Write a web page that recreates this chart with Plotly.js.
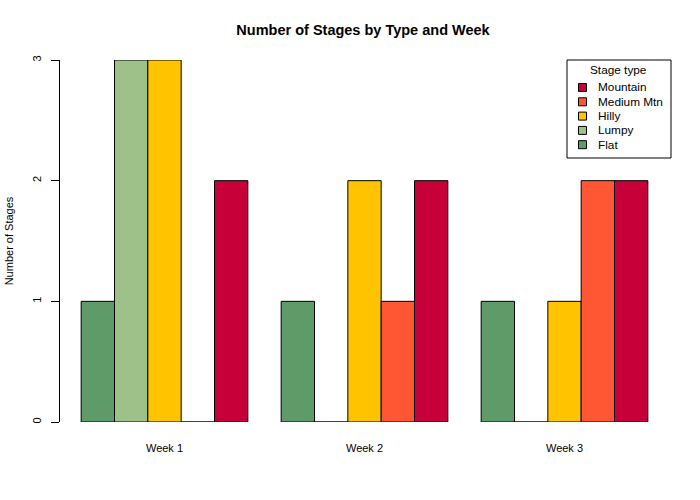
<!DOCTYPE html>
<html>
<head>
<meta charset="utf-8">
<script src="https://cdn.plot.ly/plotly-3.0.1.min.js"></script>
<style>html,body{margin:0;padding:0;background:#fff;}#chart{width:700px;height:500px;}</style>
</head>
<body>
<div id="chart"></div>
<script>
const weeks = ["Week 1", "Week 2", "Week 3"];
const stageTypes = ["Flat", "Lumpy", "Hilly", "Medium Mtn", "Mountain"];
const flat = [1, 1, 1];
const lumpy = [3, 0, 0];
const hilly = [3, 2, 1];
const mediumMtn = [0, 1, 2];
const mountain = [2, 2, 2];
const colors = ["#5F9A69", "#9DC188", "#FFC300", "#FF5733", "#C70039"];
const yTicks = [0, 1, 2, 3];
const legendTitle = "Stage type";

const seriesValues = [flat, lumpy, hilly, mediumMtn, mountain];
const font = "Liberation Sans, Arial, sans-serif";

const traces = stageTypes.map((name, i) => ({
  type: "bar",
  name: name,
  x: weeks,
  y: seriesValues[i],
  marker: {color: colors[i], line: {color: "#000", width: 1}},
  cliponaxis: false,
  showlegend: false,
  hoverinfo: "x+y+name"
}));

// plot-area geometry (pixels) used to place the hand-built legend box
const M = {l: 60, r: 29, t: 60, b: 78};
const W = 700, H = 500;
const pw = W - M.l - M.r, ph = H - M.t - M.b;
const px = v => (v - M.l) / pw;
const py = v => (H - M.b - v) / ph;

const shapes = [{
  type: "rect", xref: "paper", yref: "paper",
  x0: px(567), x1: px(671), y0: py(158), y1: py(60),
  line: {color: "#000", width: 1}, fillcolor: "#fff", layer: "above"
}];
const annotations = [{
  xref: "paper", yref: "paper", x: px(618), y: py(70),
  text: legendTitle, showarrow: false, xanchor: "center", yanchor: "middle",
  font: {family: font, size: 11.8, color: "#000"}
}];
const order = stageTypes.map((_, i) => i).reverse();
order.forEach((idx, row) => {
  const cy = 87.5 + row * 14.3;
  shapes.push({
    type: "rect", xref: "paper", yref: "paper",
    x0: px(578.5), x1: px(586.5), y0: py(cy + 4), y1: py(cy - 4),
    line: {color: "#000", width: 1}, fillcolor: colors[idx], layer: "above"
  });
  annotations.push({
    xref: "paper", yref: "paper", x: px(596), y: py(cy),
    text: stageTypes[idx], showarrow: false, xanchor: "left", yanchor: "middle",
    font: {family: font, size: 11.8, color: "#000"}
  });
});

const layout = {
  width: W, height: H,
  paper_bgcolor: "#fff", plot_bgcolor: "#fff",
  margin: M,
  font: {family: font, size: 11, color: "#000"},
  title: {text: "<b>Number of Stages by Type and Week</b>", font: {family: font, size: 14.5, color: "#000"},
          x: px(363), xref: "paper", xanchor: "center", y: 31, yref: "container", yanchor: "middle"},
  barmode: "group",
  bargap: 1/6,
  bargroupgap: 0,
  showlegend: false,
  shapes: shapes,
  annotations: annotations,
  xaxis: {
    type: "category",
    range: [-0.5225, 2.5325],
    showline: false, showgrid: false, zeroline: false,
    ticks: "", ticklabelstandoff: 18,
    tickfont: {family: font, size: 11, color: "#000"}
  },
  yaxis: {
    range: [0, 3],
    tickvals: yTicks,
    ticktext: yTicks.map(String),
    showline: true, linecolor: "#000", linewidth: 1,
    ticks: "outside", ticklen: 8, tickcolor: "#000", tickwidth: 1,
    tickangle: -90, ticklabelstandoff: 6,
    showgrid: false, zeroline: false,
    tickfont: {family: font, size: 11, color: "#000"},
    title: {text: "Number of Stages", font: {family: font, size: 11, color: "#000"}, standoff: 14}
  }
};

Plotly.newPlot("chart", traces, layout, {displayModeBar: false, staticPlot: true});
</script>
</body>
</html>
